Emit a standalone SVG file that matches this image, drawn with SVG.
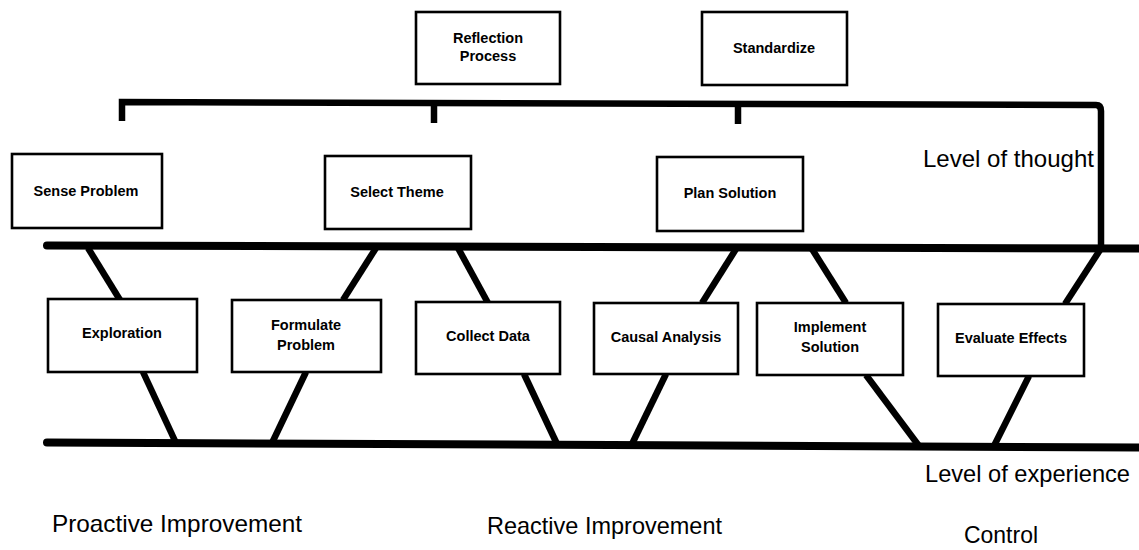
<svg xmlns="http://www.w3.org/2000/svg" width="1139" height="550" viewBox="0 0 1139 550">
<style>
.box{fill:#fff;stroke:#000;stroke-width:2.6}
.bt{font-family:"Liberation Sans",Arial,sans-serif;font-weight:bold;font-size:14.5px;fill:#000;text-anchor:middle}
.lbl{font-family:"Liberation Sans",Arial,sans-serif;font-size:24px;fill:#000}
.main{stroke:#000;stroke-width:8;stroke-linecap:round;fill:none}
.con{stroke:#000;stroke-width:6.5;fill:none}
.brk{stroke:#000;stroke-width:6.5;fill:none;stroke-linejoin:miter}
</style>
<rect width="1139" height="550" fill="#fff"/>
<g id="connectors">
<path class="brk" d="M122,121 L122,102 L1096,105 Q1101,105 1101,111 L1101,248"/>
<line class="brk" x1="434" y1="103" x2="434" y2="123"/>
<line class="brk" x1="738" y1="104" x2="738" y2="124"/>
<line class="main" x1="47" y1="245.5" x2="1145" y2="248.5"/>
<line class="main" x1="47" y1="442.5" x2="1145" y2="447.5"/>
<line class="con" x1="88" y1="248" x2="120" y2="300"/>
<line class="con" x1="376" y1="248" x2="343" y2="300"/>
<line class="con" x1="458" y1="248" x2="488" y2="303"/>
<line class="con" x1="736" y1="249" x2="702" y2="303"/>
<line class="con" x1="812" y1="249" x2="846" y2="303"/>
<line class="con" x1="1100" y1="250" x2="1065" y2="304"/>
<line class="con" x1="143" y1="372" x2="176" y2="443"/>
<line class="con" x1="306" y1="372" x2="272" y2="443"/>
<line class="con" x1="524" y1="374" x2="557" y2="444"/>
<line class="con" x1="666" y1="374" x2="632" y2="444"/>
<line class="con" x1="866" y1="375" x2="919" y2="446"/>
<line class="con" x1="1029" y1="376" x2="994" y2="446"/>
</g>
<g id="reflection-process"><rect class="box" x="416" y="12" width="144" height="72"/><text class="bt" x="488" y="43">Reflection</text><text class="bt" x="488" y="61">Process</text></g>
<g id="standardize"><rect class="box" x="702" y="12" width="145" height="73"/><text class="bt" x="774" y="53">Standardize</text></g>
<g id="sense-problem"><rect class="box" x="12" y="154" width="150" height="74"/><text class="bt" x="86" y="196">Sense Problem</text></g>
<g id="select-theme"><rect class="box" x="325" y="156" width="146" height="73"/><text class="bt" x="397" y="197">Select Theme</text></g>
<g id="plan-solution"><rect class="box" x="657" y="157" width="146" height="74"/><text class="bt" x="730" y="198">Plan Solution</text></g>
<g id="exploration"><rect class="box" x="48" y="299" width="149" height="73"/><text class="bt" x="122" y="338">Exploration</text></g>
<g id="formulate-problem"><rect class="box" x="232" y="300" width="149" height="72"/><text class="bt" x="306" y="330">Formulate</text><text class="bt" x="306" y="350">Problem</text></g>
<g id="collect-data"><rect class="box" x="416" y="302" width="144" height="72"/><text class="bt" x="488" y="341">Collect Data</text></g>
<g id="causal-analysis"><rect class="box" x="594" y="303" width="144" height="71"/><text class="bt" x="666" y="342">Causal Analysis</text></g>
<g id="implement-solution"><rect class="box" x="757" y="303" width="146" height="72"/><text class="bt" x="830" y="332">Implement</text><text class="bt" x="830" y="352">Solution</text></g>
<g id="evaluate-effects"><rect class="box" x="938" y="304" width="146" height="72"/><text class="bt" x="1011" y="343">Evaluate Effects</text></g>
<g id="labels">
<text class="lbl" x="923" y="167" textLength="171" lengthAdjust="spacingAndGlyphs">Level of thought</text>
<text class="lbl" x="925" y="482" textLength="205" lengthAdjust="spacingAndGlyphs">Level of experience</text>
<text class="lbl" x="52" y="532" textLength="250" lengthAdjust="spacingAndGlyphs">Proactive Improvement</text>
<text class="lbl" x="487" y="534" textLength="235" lengthAdjust="spacingAndGlyphs">Reactive Improvement</text>
<text class="lbl" x="964" y="543" textLength="74" lengthAdjust="spacingAndGlyphs">Control</text>
</g>
</svg>
